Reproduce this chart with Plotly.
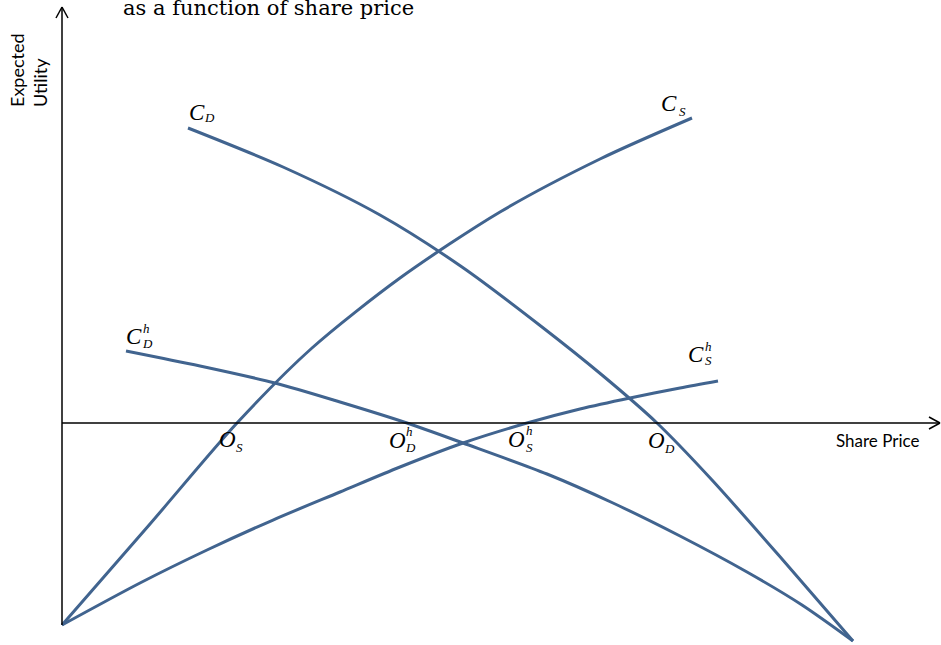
import plotly.graph_objects as go

# curves: x = share price, y = expected utility (axis origin at 0, 0)
cd_x = [126, 221, 318, 400, 480, 540, 595, 650, 720, 791]
cd_y = [295, 256, 208, 156, 96, 48, 0, -57, -136, -218]

cs_x = [0, 88, 175, 250, 338, 438, 538, 630]
cs_y = [-202, -101, 0, 75, 145, 211, 264, 305]

cdh_x = [64, 138, 213, 278, 345, 401, 485, 551, 618, 685, 740, 791]
cdh_y = [72, 57, 40, 21, 0, -20, -51, -80, -113, -149, -182, -218]

csh_x = [0, 78, 145, 211, 278, 338, 401, 465, 518, 568, 618, 656]
csh_y = [-202, -160, -127, -97, -69, -44, -20, 0, 14, 25, 35, 42]

W, H = 941, 645
X0, Y0 = 62, 423          # pixel position of the axis origin
BLUE = '#41648F'
SERIF = 'Liberation Serif'
SANS = 'Lato'

fig = go.Figure()
for xs, ys in [(cd_x, cd_y), (cs_x, cs_y), (cdh_x, cdh_y), (csh_x, csh_y)]:
    fig.add_trace(go.Scatter(x=xs, y=ys, mode='lines',
                             line=dict(color=BLUE, width=3, shape='spline', smoothing=0.8),
                             hoverinfo='skip'))

# axes drawn by hand with open arrow heads
x_end, y_top, y_bot, ah, aw = W - 1 - X0, Y0 - 7, Y0 - 625, 11, 6
axis = dict(color='black', width=1.5)
shapes = [
    dict(type='line', x0=0, y0=0, x1=x_end, y1=0, line=axis),
    dict(type='line', x0=x_end - ah, y0=aw, x1=x_end, y1=0, line=axis),
    dict(type='line', x0=x_end - ah, y0=-aw, x1=x_end, y1=0, line=axis),
    dict(type='line', x0=0, y0=y_bot, x1=0, y1=y_top, line=axis),
    dict(type='line', x0=-aw, y0=y_top - ah, x1=0, y1=y_top, line=axis),
    dict(type='line', x0=aw, y0=y_top - ah, x1=0, y1=y_top, line=axis),
]


def lab(text, px, py, size, family=SERIF, italic=True, **kw):
    # label placed by pixel position on the page
    return dict(text='<i>%s</i>' % text if italic else text,
                x=px / W, y=1 - py / H, xref='paper', yref='paper',
                showarrow=False, xanchor='center', yanchor='middle',
                font=dict(family=family, size=size, color='black'), **kw)


big, small = 23, 13
annotations = [
    lab('as a function of share price', 268, 8, 21, family='DejaVu Serif', italic=False),
    lab('Expected<br>Utility', 29, 70, 18, family=SANS, italic=False, textangle=-90, align='left'),
    lab('Share Price', 877, 441, 17, family=SANS, italic=False),
    # curve names
    lab('C', 197, 112, big), lab('D', 209, 118, small),
    lab('C', 669, 103, big), lab('S', 682, 111, small),
    lab('C', 134, 336, big), lab('h', 146, 329, small), lab('D', 147, 343, small),
    lab('C', 696, 354, big), lab('h', 708, 346, small), lab('S', 708, 360, small),
    # zero crossings
    lab('O', 227, 439, big), lab('S', 239, 447, small),
    lab('O', 397, 440, big), lab('h', 409, 431, small), lab('D', 410, 447, small),
    lab('O', 516, 439, big), lab('h', 529, 430, small), lab('S', 529, 447, small),
    lab('O', 656, 441, big), lab('D', 669, 448, small),
]

fig.update_xaxes(visible=False, range=[-X0, W - X0])
fig.update_yaxes(visible=False, range=[Y0 - H, Y0])
fig.update_layout(width=W, height=H, margin=dict(l=0, r=0, t=0, b=0),
                  showlegend=False, plot_bgcolor='white', paper_bgcolor='white',
                  shapes=shapes, annotations=annotations)

fig.write_html("out.html", config={'displayModeBar': False},
               post_script="document.body.style.margin='0';")
